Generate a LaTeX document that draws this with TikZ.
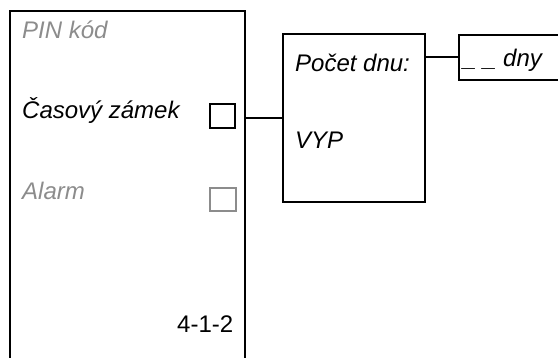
\documentclass[tikz,border=0pt]{standalone}
\usepackage{fontspec}
\setmainfont{Liberation Sans}
\begin{document}
\begin{tikzpicture}[x=1pt,y=1pt,
  frame/.style={draw=black,line width=2pt,rectangle,inner sep=0pt},
  lbl/.style={anchor=base west,inner sep=0pt,font=\fontsize{24}{27}\selectfont\itshape},
  dim/.style={text=black!45},
  wire/.style={draw=black,line width=2pt}]
\useasboundingbox (0,0) rectangle (558,358);
% panel
\node[frame,minimum width=235pt,minimum height=364pt] (panel) at (127.5,165) {};
\node[frame,minimum width=142pt,minimum height=168pt] (mid) at (354,240) {};
\node[frame,minimum width=116pt,minimum height=45pt] (right) at (517,300.5) {};
% checkboxes
\node[draw=black,line width=1.6pt,inner sep=0pt,minimum width=25pt,minimum height=24pt] (cb1) at (222.5,242) {};
\node[draw=black!45,line width=1.4pt,inner sep=0pt,minimum width=26pt,minimum height=23pt] (cb2) at (223,158.5) {};
% texts
\node[lbl,dim] (pin) at (22,319) {PIN kód};
\node[lbl] (cas) at (22,239) {Časový zámek};
\node[lbl,dim] (alarm) at (22,158) {Alarm};
\node[lbl,font=\fontsize{24}{27}\selectfont] (code) at (177,25) {4-1-2};
\node[lbl] (pocet) at (295,286) {Počet dnu:};
\node[lbl] (vyp) at (295,209) {VYP};
\node[lbl] (dny) at (463,291) {\_ \_ dny};
% connectors
\draw[wire] (mid.west) -- (mid.west -| panel.east);
\draw[wire] (right.west) -- (right.west -| mid.east);
\end{tikzpicture}
\end{document}
